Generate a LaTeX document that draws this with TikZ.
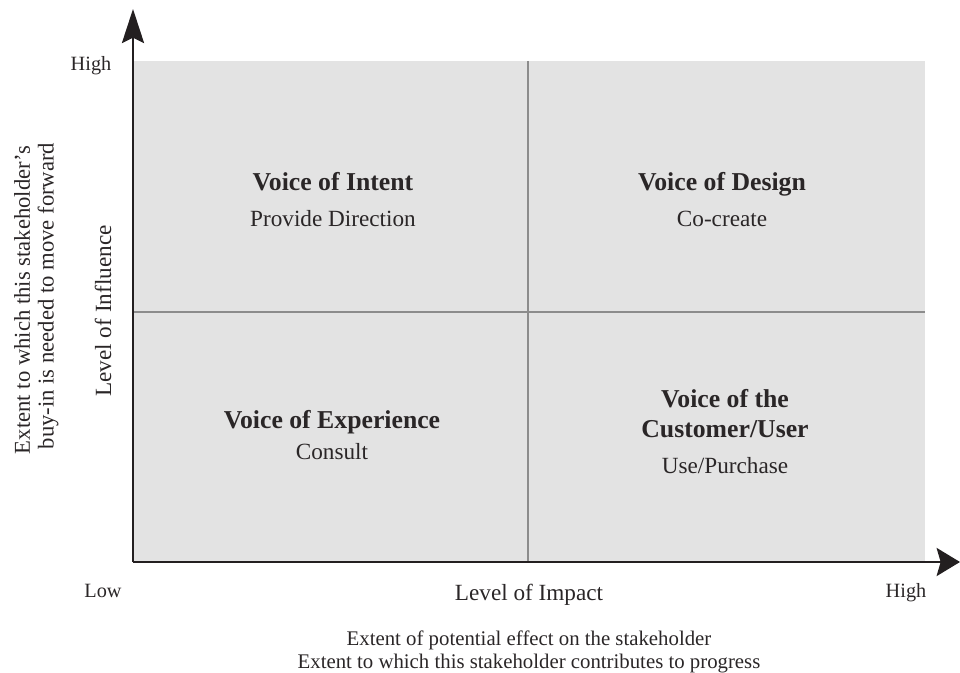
\documentclass[tikz,border=0pt]{standalone}
\usepackage{fontspec}
\setmainfont{Liberation Serif}
\usetikzlibrary{arrows.meta}
\definecolor{quadfill}{HTML}{E3E3E3}
\definecolor{axiscol}{HTML}{231F20}
\definecolor{divcol}{HTML}{8C8C8C}
\definecolor{txtcol}{HTML}{2A2627}
\begin{document}
\begin{tikzpicture}[x=0.75pt,y=-0.75pt,
  every node/.style={inner sep=0pt,outer sep=0pt,text=txtcol},
  axisline/.style={draw=axiscol,line width=2pt},
  divline/.style={draw=divcol,line width=1.3pt},
  qtitle/.style={font=\fontsize{19.3}{22}\selectfont\bfseries,anchor=base},
  qsub/.style={font=\fontsize{17.4}{20}\selectfont,anchor=base},
  axtitle/.style={font=\fontsize{17.4}{20}\selectfont},
  axend/.style={font=\fontsize{15.2}{18}\selectfont,anchor=base},
  axnote/.style={font=\fontsize{15.6}{18}\selectfont,anchor=base},
  sidenote/.style={font=\fontsize{17}{20}\selectfont,rotate=90}]
\useasboundingbox (0,0) rectangle (960,673);
% quadrant field
\coordinate (TL) at (133,61);
\coordinate (BR) at (925,562);
\coordinate (Vt) at (528,61);
\coordinate (Vb) at (528,562);
\coordinate (Hl) at (133,312);
\coordinate (Hr) at (925,312);
\fill[quadfill] (TL) rectangle (BR);
\draw[divline] (Vt) -- (Vb);
\draw[divline] (Hl) -- (Hr);
% axes
\coordinate (O) at (133,562);
\coordinate (Ytip) at (133,9);
\coordinate (Xtip) at (960,562);
\draw[axisline,-{Stealth[length=25.5pt,width=16.5pt,inset=4pt]}] (O) -- (Ytip);
\draw[axisline,-{Stealth[length=17.5pt,width=21pt,inset=3pt]}] (O) -- (Xtip);
% quadrant labels
\node[qtitle] (intent) at (333,191) {Voice of Intent};
\node[qsub] (intentsub) at (333,227) {Provide Direction};
\node[qtitle] (design) at (722,191) {Voice of Design};
\node[qsub] (designsub) at (722,227) {Co-create};
\node[qtitle] (exper) at (332,428) {Voice of Experience};
\node[qsub] (expersub) at (332,459) {Consult};
\node[qtitle] (cust1) at (725,407) {Voice of the};
\node[qtitle] (cust2) at (725,437) {Customer/User};
\node[qsub] (custsub) at (725,473) {Use/Purchase};
% axis end labels
\node[axend] (yhigh) at (91,71) {High};
\node[axend] (xlow) at (103,597) {Low};
\node[axend] (xhigh) at (906,597) {High};
% axis titles
\node[axtitle,anchor=base] (ximpact) at (529,600) {Level of Impact};
\node[axnote] (xnote1) at (529,645) {Extent of potential effect on the stakeholder};
\node[axnote] (xnote2) at (529,668) {Extent to which this stakeholder contributes to progress};
\node[axtitle,rotate=90] (yinfl) at (103,311) {Level of Influence};
\node[sidenote] (ynote1) at (22,300) {Extent to which this stakeholder’s};
\node[sidenote] (ynote2) at (48,296) {buy-in is needed to move forward};
\end{tikzpicture}
\end{document}
